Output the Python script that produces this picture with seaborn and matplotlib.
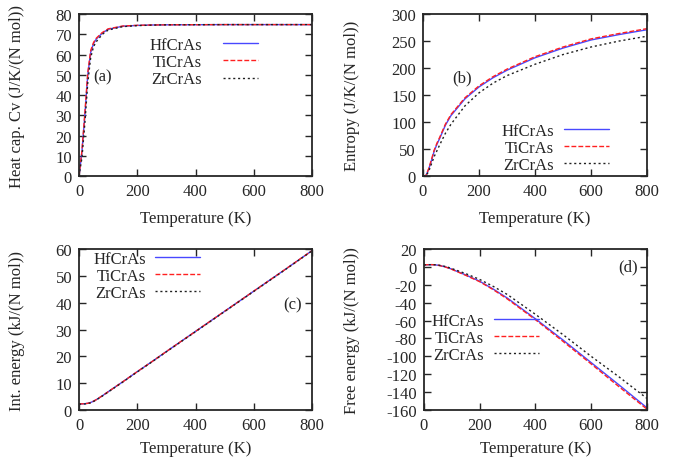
import pandas as pd
import matplotlib
matplotlib.use("Agg")
import matplotlib.pyplot as plt
import seaborn as sns

# Temperature grid (K)
temps = [0, 10, 20, 30, 40, 50, 60, 80, 100, 150, 200, 250, 300, 400, 500, 600, 700, 800]
compounds = ["HfCrAs", "TiCrAs", "ZrCrAs"]

# Heat capacity Cv (J/K/(N mol))
cv_hf = [0, 12, 30, 50, 61, 65.5, 67.8, 70.6, 72.5, 74.0, 74.4, 74.6, 74.7, 74.75, 74.8, 74.8, 74.8, 74.8]
cv_ti = [0, 12.5, 31, 51, 62, 66, 68.2, 70.9, 72.7, 74.1, 74.45, 74.6, 74.7, 74.75, 74.8, 74.8, 74.8, 74.8]
cv_zr = [0, 9, 26, 46, 58.5, 64, 66.5, 70.0, 72.1, 73.8, 74.3, 74.55, 74.7, 74.75, 74.8, 74.8, 74.8, 74.8]

# Entropy (J/K/(N mol))
s_hf = [0, 0, 12, 28, 46, 59, 70, 94, 112, 143, 165, 182, 196, 219, 237, 252, 262, 271]
s_ti = [0, 0, 13, 30, 48, 61, 72, 96, 114, 145, 167, 184, 198, 221, 239, 254, 264, 273]
s_zr = [0, 0, 8, 22, 36, 47, 58, 79, 96, 130, 154, 172, 186, 207, 225, 239, 250, 259]

# Internal energy (kJ/(N mol))
u_hf = [2.3, 2.3, 2.35, 2.5, 2.8, 3.3, 3.9, 5.3, 6.8, 10.5, 14.3, 18.0, 21.8, 29.3, 36.8, 44.3, 51.8, 59.4]
u_ti = [2.3, 2.3, 2.35, 2.5, 2.8, 3.3, 3.9, 5.3, 6.8, 10.5, 14.3, 18.0, 21.8, 29.3, 36.8, 44.3, 51.8, 59.4]
u_zr = [2.2, 2.2, 2.25, 2.4, 2.7, 3.2, 3.8, 5.2, 6.7, 10.4, 14.2, 17.9, 21.7, 29.2, 36.7, 44.2, 51.7, 59.3]

# Free energy (kJ/(N mol))
f_hf = [2.3, 2.4, 2.5, 2.5, 2.3, 1.9, 1.3, -0.3, -2.5, -9, -16, -25, -35, -58, -82, -107, -132, -157.5]
f_ti = [2.3, 2.4, 2.5, 2.5, 2.3, 1.9, 1.2, -0.4, -2.7, -9.4, -16.5, -25.7, -36, -59, -83.5, -108.5, -134, -159]
f_zr = [2.2, 2.3, 2.4, 2.5, 2.4, 2.1, 1.6, 0.3, -1.8, -7.5, -14, -22, -31, -53, -76, -100, -123, -147]

rows = []
series = {
    "HfCrAs": (cv_hf, s_hf, u_hf, f_hf),
    "TiCrAs": (cv_ti, s_ti, u_ti, f_ti),
    "ZrCrAs": (cv_zr, s_zr, u_zr, f_zr),
}
for name, (cv, s, u, f) in series.items():
    for i, t in enumerate(temps):
        rows.append({"T": t, "compound": name, "cv": cv[i], "s": s[i], "u": u[i], "f": f[i]})
df = pd.DataFrame(rows)

sns.set_style("ticks")
plt.rcParams["font.family"] = ["Liberation Serif", "DejaVu Serif"]
plt.rcParams["font.size"] = 12
plt.rcParams["axes.linewidth"] = 1.3
plt.rcParams["axes.unicode_minus"] = False

palette = {"HfCrAs": "#4848ff", "TiCrAs": "#ff2020", "ZrCrAs": "#202020"}
dashes = {"HfCrAs": "", "TiCrAs": (3.5, 1.5), "ZrCrAs": (1.5, 2)}

fig = plt.figure(figsize=(6.76, 4.64), dpi=100)

panels = [
    # key, ylabel, ylim, ystep, rect, tag, tag pos, tag ha, legend anchor, handlelength, textpad, ylabel x, xlabel y
    ("cv", "Heat cap. Cv (J/K/(N mol))", (0, 80), 10,
     [0.1169, 0.6185, 0.3447, 0.349], "(a)", (50, 49), "left", (0.768, 0.86), 2.1, 1.26, -0.232, -0.21),
    ("s", "Entropy (J/K/(N mol))", (0, 300), 50,
     [0.6257, 0.6185, 0.3314, 0.349], "(b)", (104, 183), "left", (0.83, 0.33), 2.7, 0.6, -0.281, -0.21),
    ("u", "Int. energy (kJ/(N mol))", (0, 60), 10,
     [0.1169, 0.1142, 0.3447, 0.347], "(c)", (766, 39.5), "right", (0.519, 0.99), 2.7, 0.55, -0.232, -0.185),
    ("f", "Free energy (kJ/(N mol))", (-160, 20), 20,
     [0.627, 0.1142, 0.330, 0.347], "(d)", (768, 1), "right", (0.516, 0.605), 2.7, 0.6, -0.287, -0.185),
]

for key, ylabel, ylim, ystep, rect, tag, tagpos, tagha, anchor, hl, tp, ylx, xly in panels:
    ax = fig.add_axes(rect)
    sns.lineplot(data=df, x="T", y=key, hue="compound", style="compound",
                 palette=palette, dashes=dashes, linewidth=1.0, ax=ax)
    ax.set_xlim(0, 800)
    ax.set_ylim(*ylim)
    ax.set_xticks(range(0, 801, 200))
    ax.set_yticks(range(ylim[0], ylim[1] + 1, ystep))
    ax.tick_params(direction="in", top=True, right=True, length=5, width=1, labelsize=12, pad=5)
    ax.set_xlabel("Temperature (K)", fontsize=12)
    ax.set_ylabel(ylabel, fontsize=12)
    ax.yaxis.set_label_coords(ylx, 0.5)
    ax.xaxis.set_label_coords(0.5, xly)
    ax.text(tagpos[0], tagpos[1], tag, ha=tagha, va="center", fontsize=12)
    handles, labels = ax.get_legend_handles_labels()
    ax.legend(handles, labels, loc="upper right", bbox_to_anchor=anchor,
              frameon=False, markerfirst=False, fontsize=12, handlelength=hl,
              handletextpad=tp, labelspacing=0.08, borderpad=0, borderaxespad=0)

fig.savefig("out.png", dpi=100)
